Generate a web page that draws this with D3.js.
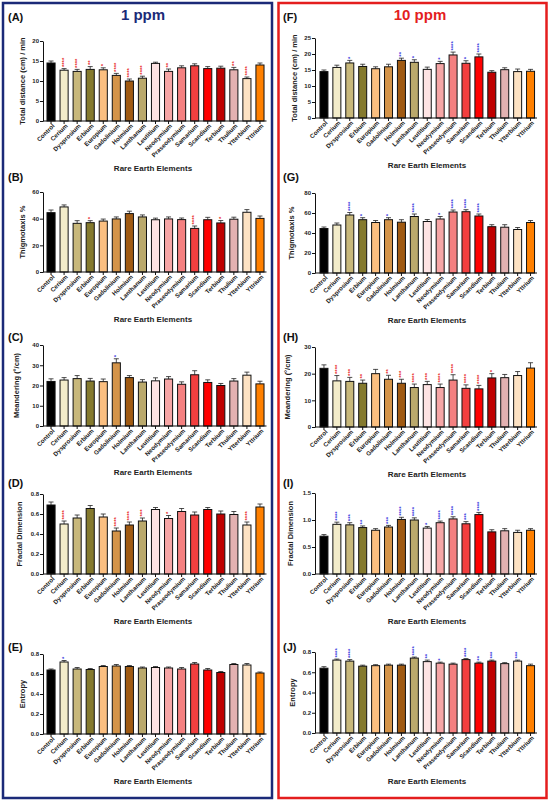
<!DOCTYPE html>
<html>
<head>
<meta charset="utf-8">
<script src="https://cdn.jsdelivr.net/npm/d3@7"></script>
<style>
  body { margin: 0; background: #fff; }
  svg text { font-family: Arial, "Liberation Sans", sans-serif; }
</style>
</head>
<body>
<div id="chart"></div>
<script>
// categories and bar colours
var elements = ['Control', 'Cerium', 'Dysprosium', 'Erbium', 'Europium', 'Gadolinium', 'Holmium',
  'Lanthanum', 'Leutitium', 'Neodymium', 'Praseodymium', 'Samarium', 'Scandium', 'Terbium',
  'Thulium', 'Ytterbium', 'Yttrium'];
var barColors = ['#000000', '#f3ecca', '#c8b87b', '#857a2e', '#fbbf80', '#d49449', '#a05a12',
  '#baa96c', '#fde3e3', '#f6a6a6', '#f48080', '#f23f3f', '#ff0000', '#bf0000',
  '#e3b1b1', '#fde2c3', '#ff8000'];

// 1 ppm
var distance1 = [14.5, 12.7, 12.4, 12.9, 12.8, 11.4, 10.0, 10.7, 14.4, 12.4, 13.3, 13.8, 13.1, 13.2, 12.8, 10.6, 14.0];
var distance1Err = [0.5, 0.4, 0.5, 0.7, 0.5, 0.5, 0.5, 0.5, 0.3, 0.6, 0.5, 0.5, 0.5, 0.5, 0.6, 0.4, 0.5];
var distance1Sig = ['', '****', '****', '**', '*', '****', '****', '****', '', '**', '', '', '', '', '**', '****', ''];

var thigmo1 = [44.5, 48.8, 36.5, 37.0, 38.2, 39.8, 43.8, 41.3, 39.2, 39.8, 39.3, 32.7, 39.2, 36.8, 39.6, 44.8, 40.2];
var thigmo1Err = [2.0, 1.5, 2.0, 1.5, 1.5, 1.5, 1.8, 1.5, 1.2, 1.5, 1.2, 1.8, 1.8, 1.8, 1.5, 2.0, 1.8];
var thigmo1Sig = ['', '', '', '*', '', '', '', '', '', '', '', '****', '', '*', '', '', ''];

var meander1 = [22.0, 22.7, 23.4, 22.2, 21.9, 31.2, 23.9, 21.7, 22.3, 23.2, 20.6, 25.3, 21.5, 20.0, 22.2, 25.1, 20.8];
var meander1Err = [1.3, 1.2, 1.5, 1.3, 1.3, 2.0, 1.0, 1.2, 1.5, 1.2, 1.2, 2.0, 1.3, 1.0, 1.2, 1.5, 1.3];
var meander1Sig = ['', '', '', '', '', '*', '', '', '', '', '', '', '', '', '', '', ''];

var fractal1 = [0.69, 0.50, 0.56, 0.655, 0.57, 0.43, 0.49, 0.53, 0.645, 0.555, 0.625, 0.59, 0.645, 0.60, 0.595, 0.49, 0.67];
var fractal1Err = [0.03, 0.03, 0.03, 0.03, 0.03, 0.03, 0.03, 0.03, 0.02, 0.03, 0.03, 0.03, 0.02, 0.03, 0.03, 0.03, 0.03];
var fractal1Sig = ['', '****', '', '', '', '****', '****', '***', '', '*', '', '', '', '', '', '****', ''];

var entropy1 = [0.64, 0.72, 0.65, 0.645, 0.675, 0.68, 0.675, 0.66, 0.665, 0.66, 0.65, 0.70, 0.64, 0.615, 0.695, 0.69, 0.61];
var entropy1Err = [0.01, 0.015, 0.015, 0.01, 0.01, 0.015, 0.01, 0.01, 0.01, 0.01, 0.015, 0.015, 0.015, 0.01, 0.01, 0.015, 0.01];
var entropy1Sig = ['', '*', '', '', '', '', '', '', '', '', '', '', '', '', '', '', ''];

// 10 ppm
var distance10 = [14.5, 15.8, 17.2, 16.1, 15.4, 16.0, 18.0, 17.4, 15.2, 17.0, 19.7, 17.1, 19.1, 14.3, 15.1, 14.5, 14.6];
var distance10Err = [0.5, 0.7, 0.8, 0.7, 0.6, 0.8, 0.7, 0.8, 0.7, 0.7, 0.9, 0.8, 0.9, 0.5, 0.6, 0.8, 0.6];
var distance10Sig = ['', '', '*', '', '', '', '**', '*', '', '*', '****', '*', '****', '', '', '', ''];

var thigmo10 = [44.5, 48.0, 58.0, 53.3, 50.5, 53.3, 50.8, 56.5, 51.5, 54.0, 61.0, 61.3, 57.0, 46.3, 45.8, 43.5, 50.5];
var thigmo10Err = [1.5, 2.0, 2.5, 2.0, 2.0, 2.0, 2.5, 2.5, 2.0, 2.5, 2.0, 2.0, 2.0, 2.0, 2.5, 2.0, 2.0];
var thigmo10Sig = ['', '', '****', '*', '', '*', '', '****', '', '*', '****', '****', '****', '', '', '', ''];

var meander10 = [22.0, 17.3, 17.1, 16.4, 20.0, 17.9, 16.4, 14.8, 15.9, 14.8, 17.6, 14.5, 14.3, 18.4, 18.5, 19.3, 22.1];
var meander10Err = [1.3, 2.0, 1.5, 1.2, 1.6, 1.5, 1.5, 1.3, 1.2, 1.3, 2.0, 1.3, 1.3, 1.6, 1.2, 1.5, 2.0];
var meander10Sig = ['', '****', '***', '**', '', '**', '***', '****', '***', '****', '****', '****', '****', '*', '', '', ''];

var fractal10 = [0.70, 0.92, 0.91, 0.86, 0.81, 0.87, 1.01, 1.00, 0.85, 0.95, 1.02, 0.93, 1.10, 0.78, 0.80, 0.77, 0.81];
var fractal10Err = [0.03, 0.04, 0.04, 0.03, 0.03, 0.03, 0.04, 0.04, 0.03, 0.03, 0.04, 0.04, 0.04, 0.04, 0.04, 0.04, 0.03];
var fractal10Sig = ['', '****', '***', '**', '', '***', '****', '****', '*', '****', '****', '***', '****', '', '', '', ''];

var entropy10 = [0.64, 0.72, 0.71, 0.66, 0.665, 0.67, 0.67, 0.74, 0.705, 0.69, 0.68, 0.725, 0.69, 0.71, 0.685, 0.71, 0.665];
var entropy10Err = [0.015, 0.01, 0.015, 0.01, 0.01, 0.01, 0.01, 0.01, 0.015, 0.01, 0.01, 0.01, 0.01, 0.01, 0.01, 0.01, 0.015];
var entropy10Sig = ['', '****', '****', '', '', '', '', '****', '**', '*', '', '****', '**', '***', '', '***', ''];

// tick labels
var distance1Ticks = [0, 5, 10, 15, 20];
var distance10Ticks = [0, 5, 10, 15, 20, 25];
var thigmo1Ticks = [0, 20, 40, 60];
var thigmo10Ticks = [0, 20, 40, 60, 80];
var meander1Ticks = [0, 10, 20, 30, 40];
var meander10Ticks = [0, 10, 20, 30];
var fractal1Ticks = [0, 0.2, 0.4, 0.6, 0.8];
var fractal10Ticks = [0, 0.5, 1.0, 1.5];
var entropyTicks = [0, 0.2, 0.4, 0.6, 0.8];

var svgWidth = 550;
var svgHeight = 803;

var svg = d3.select('#chart').append('svg')
  .attr('width', svgWidth)
  .attr('height', svgHeight);

// panel frames
var navy = '#1b2a78';
var red = '#e41e1e';
svg.append('rect').attr('x', 3).attr('y', 3).attr('width', 269).attr('height', 795)
  .attr('fill', 'none').attr('stroke', navy).attr('stroke-width', 2.5);
svg.append('rect').attr('x', 278.5).attr('y', 3).attr('width', 268).attr('height', 795)
  .attr('fill', 'none').attr('stroke', red).attr('stroke-width', 2.5);

svg.append('text').attr('x', 143).attr('y', 20).attr('text-anchor', 'middle')
  .style('font-size', '15px').style('font-weight', 'bold').attr('fill', navy).text('1 ppm');
svg.append('text').attr('x', 420).attr('y', 20).attr('text-anchor', 'middle')
  .style('font-size', '15px').style('font-weight', 'bold').attr('fill', red).text('10 ppm');

function fmt(ticks) {
  return ticks.some(function (t) { return t % 1 !== 0; }) ? d3.format('.1f') : d3.format('d');
}

// draws one bar chart
function drawChart(o) {
  var g = svg.append('g');

  var x = d3.scaleBand()
    .domain(elements)
    .range([o.left, o.right])
    .paddingInner(0.38)
    .paddingOuter(0.19);

  var y = d3.scaleLinear()
    .domain([0, o.ticks[o.ticks.length - 1]])
    .range([o.bottom, o.top]);

  // panel letter
  g.append('text').attr('x', o.labelX).attr('y', o.labelY)
    .style('font-size', '11px').style('font-weight', 'bold').attr('fill', '#111')
    .text(o.label);

  // error bars (upper only)
  g.selectAll('line.err')
    .data(o.values)
    .enter()
    .append('line')
    .attr('x1', function (d, i) { return x(elements[i]) + x.bandwidth() / 2; })
    .attr('x2', function (d, i) { return x(elements[i]) + x.bandwidth() / 2; })
    .attr('y1', function (d) { return y(d); })
    .attr('y2', function (d, i) { return y(d + o.errors[i]); })
    .attr('stroke', '#222').attr('stroke-width', 0.8);
  g.selectAll('line.cap')
    .data(o.values)
    .enter()
    .append('line')
    .attr('x1', function (d, i) { return x(elements[i]) + x.bandwidth() / 2 - 2.5; })
    .attr('x2', function (d, i) { return x(elements[i]) + x.bandwidth() / 2 + 2.5; })
    .attr('y1', function (d, i) { return y(d + o.errors[i]); })
    .attr('y2', function (d, i) { return y(d + o.errors[i]); })
    .attr('stroke', '#222').attr('stroke-width', 0.8);

  // bars
  g.selectAll('rect.bar')
    .data(o.values)
    .enter()
    .append('rect')
    .attr('x', function (d, i) { return x(elements[i]); })
    .attr('y', function (d) { return y(d); })
    .attr('width', x.bandwidth())
    .attr('height', function (d) { return o.bottom - y(d); })
    .attr('fill', function (d, i) { return barColors[i]; })
    .attr('stroke', '#111').attr('stroke-width', 1);

  // significance stars, stacked vertically
  g.selectAll('text.sig')
    .data(o.values)
    .enter()
    .append('text')
    .attr('transform', function (d, i) {
      var cx = x(elements[i]) + x.bandwidth() / 2 + 1.8;
      return 'translate(' + cx + ',' + (y(d + o.errors[i]) - 1.5) + ') rotate(-90)';
    })
    .style('font-size', '6px').style('font-weight', 'bold')
    .attr('fill', o.sigColor)
    .text(function (d, i) { return o.sig[i]; });

  // y axis
  var yAxis = g.append('g')
    .attr('transform', 'translate(' + o.axisX + ',0)')
    .call(d3.axisLeft(y).tickValues(o.ticks).tickFormat(fmt(o.ticks)).tickSize(3).tickSizeOuter(0));
  yAxis.select('.domain').attr('stroke', '#111').attr('stroke-width', 1);
  yAxis.selectAll('.tick line').attr('stroke', '#111');
  yAxis.selectAll('.tick text').attr('x', -4).style('font-size', '6px').style('font-weight', 'bold')
    .attr('fill', '#222').style('font-family', 'Arial, sans-serif');

  // x axis
  var xAxis = g.append('g')
    .attr('transform', 'translate(0,' + o.bottom + ')')
    .call(d3.axisBottom(x).tickSize(3).tickSizeOuter(0));
  xAxis.select('.domain').attr('d', 'M' + o.axisX + ',0H' + o.right)
    .attr('stroke', '#111').attr('stroke-width', 1.2);
  xAxis.selectAll('.tick line').attr('stroke', '#111');
  xAxis.selectAll('.tick text')
    .attr('transform', 'translate(1,1) rotate(-45)')
    .attr('text-anchor', 'end')
    .attr('dy', '0.35em').attr('y', 3).attr('x', -1)
    .style('font-size', '6.2px').style('font-weight', 'bold')
    .attr('fill', '#222').style('font-family', 'Arial, sans-serif');

  // y title
  g.append('text')
    .attr('transform', 'translate(' + o.yTitleX + ',' + ((o.top + o.bottom) / 2) + ') rotate(-90)')
    .attr('text-anchor', 'middle')
    .style('font-size', '7.5px').style('font-weight', 'bold').attr('fill', '#222')
    .text(o.yTitle);

  // x title
  g.append('text')
    .attr('x', o.xTitleX).attr('y', o.xTitleY)
    .attr('text-anchor', 'middle')
    .style('font-size', '8px').style('font-weight', 'bold').attr('fill', '#222')
    .text('Rare Earth Elements');
}

var leftCol = { axisX: 43, left: 44.5, right: 266.5, labelX: 8, xTitleX: 153, sigColor: '#e8282a' };
var rightCol = { axisX: 315, left: 317.5, right: 537, labelX: 283, xTitleX: 427, sigColor: '#3a3ae0' };

var charts = [
  [leftCol, { label: '(A)', labelY: 21, top: 41, bottom: 121, xTitleY: 171, yTitleX: 25,
    values: distance1, errors: distance1Err, sig: distance1Sig, ticks: distance1Ticks, yTitle: 'Total distance (cm) / min' }],
  [leftCol, { label: '(B)', labelY: 181, top: 192, bottom: 272, xTitleY: 322, yTitleX: 25,
    values: thigmo1, errors: thigmo1Err, sig: thigmo1Sig, ticks: thigmo1Ticks, yTitle: 'Thigmotaxis %' }],
  [leftCol, { label: '(C)', labelY: 341, top: 345, bottom: 426, xTitleY: 475, yTitleX: 19,
    values: meander1, errors: meander1Err, sig: meander1Sig, ticks: meander1Ticks, yTitle: 'Meandering (°/cm)',
    sigColor: '#3a3ae0' }],
  [leftCol, { label: '(D)', labelY: 487, top: 494, bottom: 574, xTitleY: 624, yTitleX: 22,
    values: fractal1, errors: fractal1Err, sig: fractal1Sig, ticks: fractal1Ticks, yTitle: 'Fractal Dimension' }],
  [leftCol, { label: '(E)', labelY: 651, top: 654, bottom: 734, xTitleY: 784, yTitleX: 25,
    values: entropy1, errors: entropy1Err, sig: entropy1Sig, ticks: entropyTicks, yTitle: 'Entropy',
    sigColor: '#3a3ae0' }],
  [rightCol, { label: '(F)', labelY: 21, top: 38, bottom: 118, xTitleY: 168, yTitleX: 297,
    values: distance10, errors: distance10Err, sig: distance10Sig, ticks: distance10Ticks, yTitle: 'Total distance (cm) / min' }],
  [rightCol, { label: '(G)', labelY: 181, top: 193, bottom: 273, xTitleY: 323, yTitleX: 294,
    values: thigmo10, errors: thigmo10Err, sig: thigmo10Sig, ticks: thigmo10Ticks, yTitle: 'Thigmotaxis %' }],
  [rightCol, { label: '(H)', labelY: 341, top: 347, bottom: 427, xTitleY: 477, yTitleX: 290,
    values: meander10, errors: meander10Err, sig: meander10Sig, ticks: meander10Ticks, yTitle: 'Meandering (°/cm)',
    sigColor: '#e8282a' }],
  [rightCol, { label: '(I)', labelY: 487, top: 493, bottom: 574, xTitleY: 624, yTitleX: 293,
    values: fractal10, errors: fractal10Err, sig: fractal10Sig, ticks: fractal10Ticks, yTitle: 'Fractal Dimension' }],
  [rightCol, { label: '(J)', labelY: 651, top: 652, bottom: 733, xTitleY: 784, yTitleX: 295,
    values: entropy10, errors: entropy10Err, sig: entropy10Sig, ticks: entropyTicks, yTitle: 'Entropy' }]
];

charts.forEach(function (c) {
  drawChart(Object.assign({}, c[0], c[1]));
});
</script>
</body>
</html>
